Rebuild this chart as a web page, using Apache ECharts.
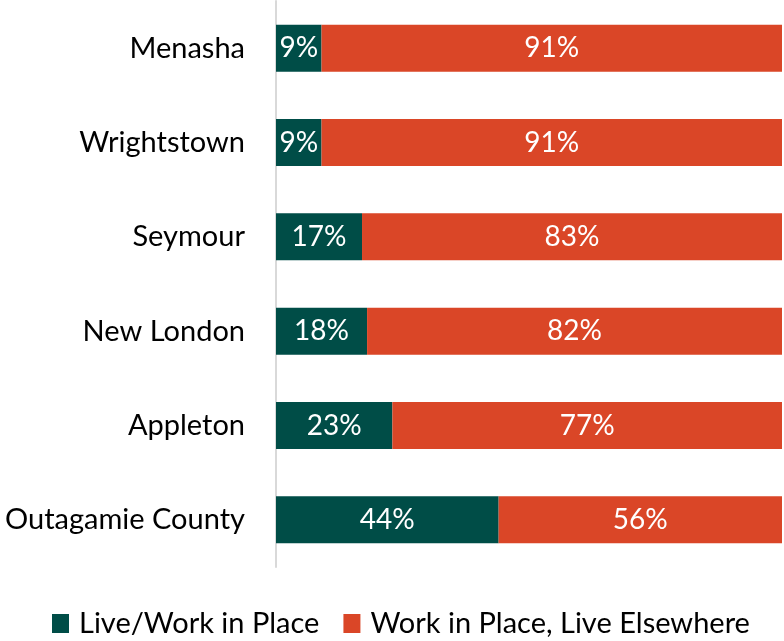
<!DOCTYPE html>
<html>
<head>
<meta charset="utf-8">
<script src="https://cdn.jsdelivr.net/npm/echarts@6/dist/echarts.min.js"></script>
<style>
  html, body { margin: 0; padding: 0; background: #fff; }
  #chart { width: 784px; height: 641px; }
</style>
</head>
<body>
<div id="chart"></div>
<script>
// places, top to bottom
var places = ['Menasha', 'Wrightstown', 'Seymour', 'New London', 'Appleton', 'Outagamie County'];
// share of workers (%)
var liveWork = [9, 9, 17, 18, 23, 44];
var liveElsewhere = [91, 91, 83, 82, 77, 56];

var chart = echarts.init(document.getElementById('chart'));
var font = 'Lato, Carlito, Calibri, sans-serif';

var option = {
    animation: false,
    textStyle: { fontFamily: font },
    grid: { left: 276, right: 2, top: 1, bottom: 74 },
    legend: {
        bottom: 3,
        left: 52,
        padding: 0,
        itemWidth: 17,
        itemHeight: 19,
        itemGap: 24,
        icon: 'rect',
        textStyle: { fontSize: 29, color: '#000', fontFamily: font, padding: [0, 0, 0, 5] }
    },
    xAxis: {
        type: 'value',
        min: 0,
        max: 100,
        show: false
    },
    yAxis: {
        type: 'category',
        inverse: true,
        data: places,
        axisTick: { show: false },
        axisLine: { lineStyle: { color: '#D9D9D9', width: 2 } },
        axisLabel: { fontSize: 29, color: '#000', margin: 31, fontFamily: font }
    },
    series: [
        {
            name: 'Live/Work in Place',
            type: 'bar',
            stack: 'total',
            barWidth: 47,
            data: liveWork,
            itemStyle: { color: '#004D47' },
            label: { show: true, position: 'inside', color: '#fff', fontSize: 28, formatter: '{c}%', fontFamily: font }
        },
        {
            name: 'Work in Place, Live Elsewhere',
            type: 'bar',
            stack: 'total',
            barWidth: 47,
            data: liveElsewhere,
            itemStyle: { color: '#DA4627' },
            label: { show: true, position: 'inside', color: '#fff', fontSize: 28, formatter: '{c}%', fontFamily: font }
        }
    ]
};
chart.setOption(option);
</script>
</body>
</html>
